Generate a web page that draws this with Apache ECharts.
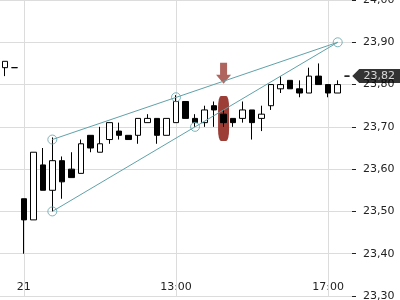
<!DOCTYPE html>
<html>
<head>
<meta charset="utf-8">
<script src="https://cdn.jsdelivr.net/npm/echarts@6/dist/echarts.min.js"></script>
<style>html,body{margin:0;padding:0;background:#fff}#c{width:400px;height:300px}</style>
</head>
<body>
<div id="c"></div>
<script>
const categories = ['20 17:15','20 17:30','21 09:00','21 09:15','21 09:30','21 09:45','21 10:00','21 10:15','21 10:30','21 10:45','21 11:00','21 11:15','21 11:30','21 11:45','21 12:00','21 12:15','21 12:30','21 12:45','21 13:00','21 13:15','21 13:30','21 13:45','21 14:00','21 14:15','21 14:30','21 14:45','21 15:00','21 15:15','21 15:30','21 15:45','21 16:00','21 16:15','21 16:30','21 16:45','21 17:00','21 17:15','21 17:30'];
const opens  = [23.84,23.84,23.53,23.48,23.61,23.55,23.62,23.60,23.59,23.68,23.64,23.67,23.69,23.68,23.68,23.71,23.72,23.68,23.71,23.76,23.72,23.71,23.75,23.73,23.72,23.72,23.74,23.72,23.75,23.79,23.81,23.79,23.78,23.82,23.80,23.78,23.82];
const closes = [23.855,23.84,23.48,23.64,23.55,23.62,23.57,23.58,23.66,23.65,23.66,23.71,23.68,23.67,23.72,23.72,23.68,23.72,23.76,23.72,23.71,23.74,23.74,23.71,23.71,23.74,23.71,23.73,23.80,23.80,23.79,23.78,23.82,23.80,23.78,23.80,23.82];
const lows   = [23.82,23.84,23.40,23.48,23.55,23.50,23.53,23.58,23.59,23.64,23.64,23.66,23.67,23.67,23.66,23.71,23.66,23.68,23.71,23.72,23.70,23.70,23.70,23.70,23.70,23.71,23.67,23.69,23.74,23.78,23.79,23.77,23.78,23.80,23.77,23.78,23.82];
const highs  = [23.855,23.84,23.53,23.64,23.65,23.675,23.63,23.64,23.67,23.68,23.70,23.71,23.71,23.68,23.72,23.73,23.72,23.72,23.775,23.76,23.73,23.75,23.76,23.74,23.72,23.76,23.74,23.75,23.80,23.82,23.81,23.81,23.84,23.85,23.80,23.81,23.82];

const xTickCats  = ['21 09:00','21 13:00','21 17:00'];
const xTickTexts = ['21','13:00','17:00'];
const yMin = 23.3, yMax = 24.0, yStep = 0.1;

const pivotCats = ['21 09:45','21 09:45','21 13:00','21 13:30','21 17:15'];
const pivotVals = [23.67,23.50,23.77,23.70,23.90];
const trendCats  = ['21 09:45','21 17:15'];
const trendUpper = [23.67,23.90];
const trendLower = [23.50,23.90];

const highlightCat = '21 14:15';
const highlightVal = 23.72;
const arrowVal = 23.827;
const lastCat = categories[categories.length - 1];
const lastPrice = closes[closes.length - 1];

const teal = '#5fa2aa';
const red = '#9c3d36';
const txt = '#222';
const font = 'DejaVu Sans';
const fmt = v => v.toFixed(2).replace('.', ',');

const candleData = opens.map((o, i) => [o, closes[i], lows[i], highs[i]]);

const chart = echarts.init(document.getElementById('c'), null, {renderer: 'canvas'});
chart.setOption({
  animation: false,
  backgroundColor: '#fff',
  grid: {left: 0, right: 48, top: 0, bottom: 4, containLabel: false, outerBoundsMode: 'none'},
  xAxis: {
    type: 'category',
    data: categories,
    boundaryGap: true,
    axisLine: {show: false},
    axisTick: {show: true, inside: true, length: 3, alignWithLabel: true,
      interval: (i, v) => xTickCats.includes(v), lineStyle: {color: txt}},
    axisLabel: {inside: true, margin: 3, color: txt, fontFamily: font, fontSize: 11,
      interval: (i, v) => xTickCats.includes(v),
      formatter: v => { const k = xTickCats.indexOf(v); return k >= 0 ? xTickTexts[k] : ''; }},
    splitLine: {show: false}
  },
  yAxis: {
    type: 'value',
    position: 'right',
    min: yMin, max: yMax, interval: yStep,
    axisLine: {show: false},
    axisTick: {show: true, length: 4, lineStyle: {color: txt}},
    axisLabel: {margin: 11, color: txt, fontFamily: font, fontSize: 11, formatter: fmt,
      verticalAlignMinLabel: 'middle', verticalAlignMaxLabel: 'middle'},
    splitLine: {show: true, lineStyle: {color: '#dcdcdc', width: 1}}
  },
  series: [
    {
      type: 'scatter',
      z: 1,
      clip: false,
      symbol: 'roundRect',
      symbolSize: [11, 45],
      itemStyle: {color: red, opacity: 1},
      data: [[highlightCat, highlightVal]],
      markLine: {
        z: 1,
        silent: true,
        symbol: ['none', 'none'],
        label: {show: false},
        lineStyle: {color: '#dcdcdc', width: 1, type: 'solid'},
        data: xTickCats.map(c => ({xAxis: c}))
      }
    },
    {
      type: 'candlestick',
      z: 2,
      barWidth: 6,
      itemStyle: {color: '#fff', color0: '#000', borderColor: '#000', borderColor0: '#000', borderWidth: 1},
      data: candleData
    },
    {
      type: 'scatter',
      z: 2,
      clip: false,
      symbol: 'path://M4,0 L11,0 L11,12 L15,12 L7.5,21 L0,12 L4,12 Z',
      symbolSize: [15, 21],
      itemStyle: {color: red},
      data: [[highlightCat, arrowVal]]
    },
    {
      type: 'line', z: 3, showSymbol: false, silent: true,
      lineStyle: {color: teal, width: 1},
      data: trendCats.map((c, i) => [c, trendUpper[i]])
    },
    {
      type: 'line', z: 3, showSymbol: false, silent: true,
      lineStyle: {color: teal, width: 1},
      data: trendCats.map((c, i) => [c, trendLower[i]])
    },
    {
      type: 'scatter', z: 4, clip: false,
      symbol: 'circle', symbolSize: 9,
      itemStyle: {color: 'rgba(255,255,255,0)', borderColor: teal, borderWidth: 1},
      data: pivotCats.map((c, i) => [c, pivotVals[i]])
    },
    {
      type: 'scatter', z: 10, clip: false,
      symbol: 'path://M0,7 L7,0 L48,0 L48,14 L7,14 Z',
      symbolSize: [48, 14],
      symbolOffset: [29, 0],
      itemStyle: {color: '#000'},
      label: {show: true, position: 'inside', offset: [3, 0], color: '#fff', fontFamily: font, fontSize: 11,
        formatter: p => fmt(p.value[1])},
      data: [[lastCat, lastPrice]]
    }
  ]
});
</script>
</body>
</html>
